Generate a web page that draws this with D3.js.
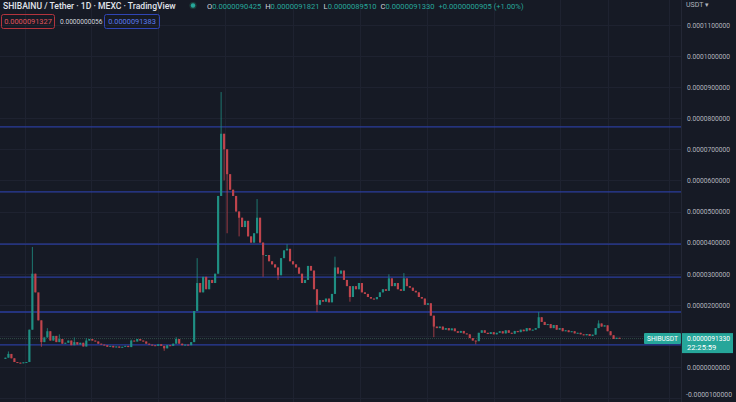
<!DOCTYPE html>
<html><head><meta charset="utf-8">
<script src="https://cdn.jsdelivr.net/npm/d3@7"></script>
<style>
html,body{margin:0;padding:0;background:#161a25;}
svg{display:block;}
text{font-family:Roboto,"Liberation Sans",sans-serif;}
</style></head>
<body>
<svg id="c" width="736" height="402"></svg>
<script>
// Prices in micro-USDT (1e-6 USDT)
const UNIT = 1e-6;
const closes = [3.0,4.2,2.8,1.6,1.4,1.2,1.5,1.6,12.0,30.0,24.0,15.0,8.0,9.5,11.5,8.5,10.0,8.0,9.0,7.5,
7.8,8.5,7.0,8.0,7.2,7.8,6.6,8.5,9.0,8.5,8.2,7.5,7.2,7.0,6.5,6.8,6.3,6.6,6.2,6.5,
6.8,6.4,8.5,8.2,9.0,8.5,8.2,7.5,7.2,7.0,6.8,7.3,6.8,6.0,7.0,6.8,7.5,9.0,7.5,7.0,
7.2,7.0,8.0,18.0,27.0,24.0,29.0,25.0,28.0,27.0,30.0,55.0,75.0,70.0,62.0,57.0,55.0,50.0,48.0,45.0,
47.0,42.0,40.0,43.0,48.0,40.0,36.0,36.0,34.0,33.0,32.0,29.5,35.0,37.5,38.0,34.0,33.0,32.0,30.0,27.0,
28.0,32.5,31.0,25.0,20.0,21.5,21.0,22.0,20.8,23.5,32.0,30.0,31.0,28.0,26.0,22.5,26.0,25.0,27.0,24.0,
23.5,22.5,22.0,21.8,22.5,24.0,25.0,24.5,28.5,26.0,27.0,25.0,24.5,28.5,26.0,25.5,24.5,24.0,22.5,22.0,
20.0,20.5,16.5,13.0,12.5,13.0,12.0,12.5,11.8,12.4,11.5,11.0,11.6,10.8,10.5,9.3,8.5,8.3,11.0,11.8,
11.0,10.6,11.2,10.5,11.0,11.5,10.8,11.8,11.0,10.7,11.6,11.2,12.0,11.5,12.5,11.8,12.0,12.5,16.0,14.5,
13.5,13.8,12.5,13.5,12.0,12.5,11.5,11.8,11.2,11.5,10.8,11.0,10.5,10.2,10.6,10.0,10.4,12.5,14.0,13.0,
13.4,11.5,10.2,9.0,9.4,9.133];
const firstOpen = 2.6;
// wick extremes: [candle index, high, low]
const wicks = [[1,5.0,null],[9,38.6,null],[11,20.0,null],[12,null,6.5],[14,12.5,null],[18,10.5,null],
[23,9.5,null],[27,9.3,null],[42,8.8,null],[53,null,5.2],[57,9.6,null],[64,35.0,null],[71,null,30],
[72,88.4,null],[73,null,60],[74,null,43],[78,null,42],[84,54.0,null],[86,null,29],[91,null,28],
[94,39.5,null],[104,null,17.7],[110,35.5,null],[115,null,21],[128,29.8,null],[133,30.2,null],
[143,null,9.6],[157,null,7.3],[178,17.7,null],[198,15.0,null]];
const levels = [77.2, 56.3, 39.5, 28.9, 17.7, 7.1];
const yTicks = [110,100,90,80,70,60,50,40,30,20,10,0,-10];
const vGrid = [25,91,158,225,293,360,427,494,560,608,669];
const lastPrice = 9.133;

const svg = d3.select("#c");
const W = 736, H = 402, plotR = 681;
const y = d3.scaleLinear().domain([-10,110]).range([398.1,24.9]);
const x = d3.scaleBand().domain(d3.range(closes.length)).range([3.5, 3.5+closes.length*3]).padding(0.28);

const candles = closes.map((c,i)=>{
  const o = i===0 ? firstOpen : closes[i-1];
  let h = Math.max(o,c), l = Math.min(o,c);
  const w = wicks.find(d=>d[0]===i);
  if (w){ if(w[1]!=null) h=w[1]; if(w[2]!=null) l=w[2]; }
  return {i,o,c,h,l};
});

svg.append("rect").attr("width",W).attr("height",H).attr("fill","#161a25");
// grid
const g = svg.append("g");
g.selectAll(".hg").data(yTicks).join("line")
  .attr("x1",0).attr("x2",plotR).attr("y1",d=>Math.round(y(d))+0.5).attr("y2",d=>Math.round(y(d))+0.5)
  .attr("stroke","#1e2230").attr("stroke-width",1);
g.selectAll(".vg").data(vGrid).join("line")
  .attr("x1",d=>d+0.5).attr("x2",d=>d+0.5).attr("y1",0).attr("y2",H)
  .attr("stroke","#1e2230").attr("stroke-width",1);
svg.append("line").attr("x1",plotR+0.5).attr("x2",plotR+0.5).attr("y1",0).attr("y2",H)
  .attr("stroke","#232735");

// horizontal levels
svg.selectAll(".lv").data(levels).join("line")
  .attr("x1",0).attr("x2",plotR).attr("y1",d=>y(d)).attr("y2",d=>y(d))
  .attr("stroke","#2a3c9c").attr("stroke-width",1.4);

// last price line
svg.append("line").attr("x1",0).attr("x2",plotR).attr("y1",y(lastPrice)).attr("y2",y(lastPrice))
  .attr("stroke","#2f4a46").attr("stroke-width",1).attr("stroke-dasharray","1,1");

// candles
const up="#1f8f83", dn="#bf444c";
const cg = svg.append("g");
cg.selectAll(".wk").data(candles).join("line")
  .attr("x1",d=>x(d.i)+x.bandwidth()/2).attr("x2",d=>x(d.i)+x.bandwidth()/2)
  .attr("y1",d=>y(d.h)).attr("y2",d=>y(d.l))
  .attr("stroke",d=>d.c>=d.o?up:dn).attr("stroke-width",0.8);
cg.selectAll(".bd").data(candles).join("rect")
  .attr("x",d=>x(d.i)).attr("width",x.bandwidth())
  .attr("y",d=>y(Math.max(d.o,d.c)))
  .attr("height",d=>Math.max(1,Math.abs(y(d.o)-y(d.c))))
  .attr("fill",d=>d.c>=d.o?up:dn);

// axis labels (the one under the last-price box is hidden, as in the reference)
const fmt = v => (v<0?"-":"") + Math.abs(v*UNIT).toFixed(10);
const visTicks = yTicks.filter(d=>Math.abs(y(d)-y(lastPrice))>12);
svg.selectAll(".yl").data(visTicks).join("text")
  .attr("x",d=>d<0?686:687).attr("y",d=>Math.min(y(d)+2.8,397)).attr("font-size",d=>d<0?7:7.6).attr("fill","#b2b5be")
  .attr("textLength",d=>d<0?46:43).attr("lengthAdjust","spacingAndGlyphs")
  .text(fmt);
svg.append("text").attr("x",686).attr("y",7).attr("font-size",7).attr("fill","#b2b5be").text("USDT ▾");

// price labels
svg.append("rect").attr("x",644).attr("y",y(lastPrice)-5.5).attr("width",37).attr("height",11).attr("fill","#26a69a").attr("rx",1);
svg.append("text").attr("x",662.5).attr("y",y(lastPrice)+2.6).attr("text-anchor","middle").attr("font-size",7)
  .attr("textLength",31).attr("lengthAdjust","spacingAndGlyphs").attr("fill","#ffffff").text("SHIBUSDT");
svg.append("rect").attr("x",682).attr("y",y(lastPrice)-5.5).attr("width",51).attr("height",20).attr("fill","#26a69a");
svg.append("text").attr("x",687).attr("y",y(lastPrice)+2.8).attr("font-size",7.6).attr("fill","#ffffff")
  .attr("textLength",43).attr("lengthAdjust","spacingAndGlyphs").text(fmt(lastPrice));
svg.append("text").attr("x",687).attr("y",y(lastPrice)+11.8).attr("font-size",7.6).attr("fill","#ffffff").text("22:25:59");

// header
const hdr = svg.append("g");
hdr.append("text").attr("x",3).attr("y",9).attr("font-size",8.6).attr("font-weight",500).attr("fill","#e0e3eb").text("SHIBAINU / Tether · 1D · MEXC · TradingView");
hdr.append("circle").attr("cx",193).attr("cy",5.5).attr("r",3.6).attr("fill","#1c3d3a");
hdr.append("circle").attr("cx",193).attr("cy",5.5).attr("r",2.2).attr("fill","#26a69a");
const ohlc = [["O","0.0000090425"],["H","0.0000091821"],["L","0.0000089510"],["C","0.0000091330"]];
const t = hdr.append("text").attr("x",207).attr("y",9).attr("font-size",7.6);
ohlc.forEach((p,k)=>{
  t.append("tspan").attr("fill","#d1d4dc").attr("dx",k?4:0).text(p[0]);
  t.append("tspan").attr("fill","#26a69a").text(p[1]);
});
t.append("tspan").attr("fill","#26a69a").attr("dx",4).text("+0.0000000905 (+1.00%)");

hdr.append("rect").attr("x",1.5).attr("y",14.5).attr("width",53).attr("height",14).attr("rx",2).attr("fill","none").attr("stroke","#b3343d");
hdr.append("text").attr("x",28).attr("y",24).attr("text-anchor","middle").attr("font-size",7.4).attr("fill","#e0555d").text("0.0000091327");
hdr.append("text").attr("x",60).attr("y",24).attr("font-size",6.6).attr("fill","#d1d4dc").text("0.0000000056");
hdr.append("rect").attr("x",104.5).attr("y",14.5).attr("width",55).attr("height",14).attr("rx",2).attr("fill","none").attr("stroke","#2f45b5");
hdr.append("text").attr("x",132).attr("y",24).attr("text-anchor","middle").attr("font-size",7.4).attr("fill","#5b7bf0").text("0.0000091383");
</script>
</body></html>
